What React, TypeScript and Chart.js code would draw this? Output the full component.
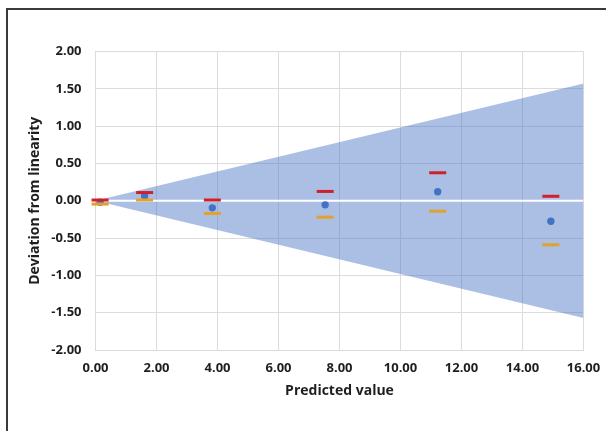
import React, { useEffect, useRef } from "react";
import { Chart, registerables } from "chart.js";

Chart.register(...registerables);

const xValues = [0.15, 1.61, 3.83, 7.53, 11.22, 14.93];
const upperValues = [0.01, 0.11, 0.01, 0.125, 0.375, 0.06];
const meanValues = [-0.02, 0.065, -0.095, -0.055, 0.12, -0.275];
const lowerValues = [-0.045, 0.01, -0.17, -0.22, -0.14, -0.59];
const coneX = [0, 16];
const coneUpper = [0, 1.57];
const coneLower = [0, -1.57];
const zeroLine = [0, 0];

const FONT = "'Open Sans', 'Noto Sans', sans-serif";
const TEXT = "#1e1e1e";
const GRID = "#dcdcdc";

export default function App() {
  const ref = useRef<HTMLCanvasElement | null>(null);

  useEffect(() => {
    if (!ref.current) return;
    const pts = (ys: number[]) => xValues.map((x, i) => ({ x, y: ys[i] }));
    const line = (ys: number[]) => coneX.map((x, i) => ({ x, y: ys[i] }));
    const chart = new Chart(ref.current, {
      type: "scatter",
      data: {
        datasets: [
          {
            label: "mean",
            data: pts(meanValues),
            pointStyle: "circle",
            pointRadius: 3.7,
            pointBackgroundColor: "#4472C4",
            pointBorderColor: "#4472C4",
            pointBorderWidth: 0,
            showLine: false,
            order: 3,
            clip: false,
          },
          {
            label: "upper",
            data: pts(upperValues),
            pointStyle: "line",
            pointRadius: 8.5,
            pointBorderColor: "#D0202A",
            pointBorderWidth: 3,
            showLine: false,
            order: 1,
            clip: false,
          },
          {
            label: "lower",
            data: pts(lowerValues),
            pointStyle: "line",
            pointRadius: 8.5,
            pointBorderColor: "#E2A22A",
            pointBorderWidth: 3,
            showLine: false,
            order: 2,
            clip: false,
          },
          {
            label: "zero",
            data: line(zeroLine),
            showLine: true,
            borderColor: "#ffffff",
            borderWidth: 2,
            pointRadius: 0,
            order: 4,
          },
          {
            label: "coneUpper",
            data: line(coneUpper),
            showLine: true,
            borderWidth: 0,
            borderColor: "rgba(0,0,0,0)",
            pointRadius: 0,
            fill: "+1",
            backgroundColor: "rgba(68,114,196,0.45)",
            order: 5,
          },
          {
            label: "coneLower",
            data: line(coneLower),
            showLine: true,
            borderWidth: 0,
            borderColor: "rgba(0,0,0,0)",
            pointRadius: 0,
            fill: false,
            order: 6,
          },
        ],
      },
      options: {
        animation: false,
        responsive: false,
        maintainAspectRatio: false,
        layout: { padding: { left: 27, top: 51.5, right: 22.5, bottom: 31.6 } },
        plugins: {
          legend: { display: false },
          tooltip: { enabled: false },
        },
        scales: {
          x: {
            type: "linear",
            min: 0,
            max: 16,
            afterFit: (s: any) => {
              s.height = 49.4;
              s.paddingLeft = 0;
              s.paddingRight = 0;
            },
            ticks: {
              stepSize: 2,
              padding: 10,
              color: TEXT,
              font: { family: FONT, size: 13, weight: "bold" },
              callback: (v: any) => Number(v).toFixed(2),
            },
            grid: { color: GRID, drawTicks: false, lineWidth: 1 },
            border: { color: GRID },
            title: {
              display: true,
              text: "Predicted value",
              color: TEXT,
              font: { family: FONT, size: 14, weight: "bold" },
              padding: { top: 0, bottom: 0 },
            },
          },
          y: {
            type: "linear",
            min: -2,
            max: 2,
            afterFit: (s: any) => {
              s.width = 68.5;
              s.paddingTop = 0;
              s.paddingBottom = 0;
            },
            ticks: {
              stepSize: 0.5,
              padding: 14,
              color: TEXT,
              font: { family: FONT, size: 13, weight: "bold" },
              callback: (v: any) => Number(v).toFixed(2),
            },
            grid: { color: GRID, drawTicks: false, lineWidth: 1 },
            border: { color: GRID },
            title: {
              display: true,
              text: "Deviation from linearity",
              color: TEXT,
              font: { family: FONT, size: 14, weight: "bold" },
              padding: { top: 0, bottom: 0 },
            },
          },
        },
      },
    });
    return () => chart.destroy();
  }, []);

  return (
    <div style={{ position: "fixed", left: 0, top: 0, width: 606, height: 431, background: "#fff" }}>
      <div
        style={{
          position: "absolute",
          left: 6,
          top: 8,
          right: -4,
          bottom: -4,
          borderLeft: "2px solid #3a3a3a",
          borderTop: "2px solid #3a3a3a",
        }}
      />
      <canvas
        ref={ref}
        width={606}
        height={431}
        style={{ position: "absolute", left: 0, top: 0, width: 606, height: 431 }}
      />
    </div>
  );
}
